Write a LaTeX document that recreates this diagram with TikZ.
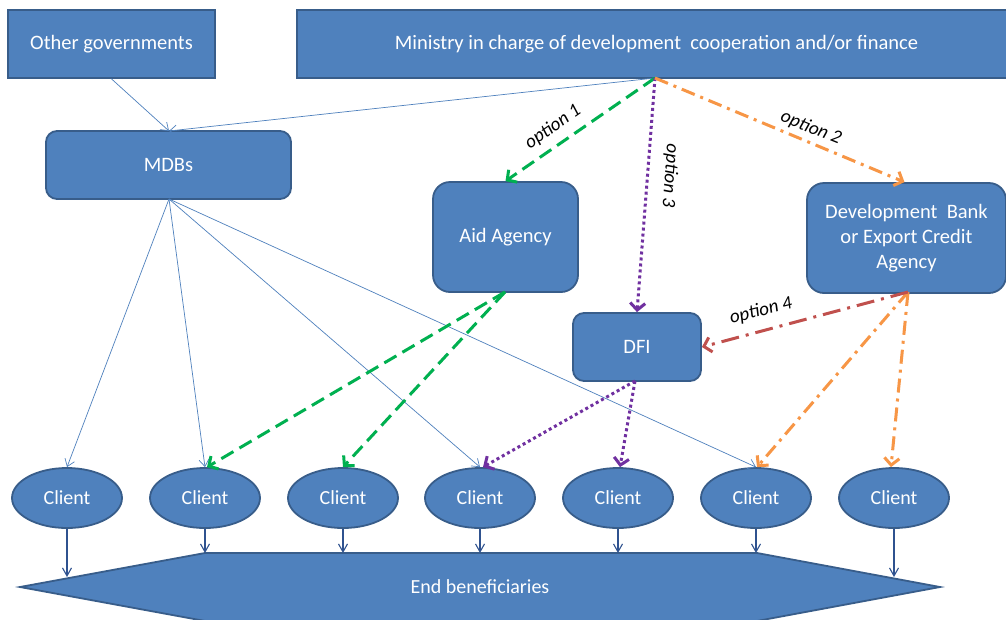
\documentclass[tikz,border=0pt]{standalone}
\usepackage{fontspec}
\setmainfont{Carlito}
\usetikzlibrary{arrows.meta,shapes.geometric}
\definecolor{boxfill}{HTML}{4F81BD}
\definecolor{boxline}{HTML}{385D8A}
\definecolor{thinblue}{HTML}{4F81BD}
\definecolor{downblue}{HTML}{2F528F}
\definecolor{optgreen}{HTML}{00B050}
\definecolor{optpurple}{HTML}{7030A0}
\definecolor{optorange}{HTML}{F79646}
\definecolor{optred}{HTML}{C0504D}
\begin{document}
\begin{tikzpicture}[x=1pt,y=-1pt,
  sqbox/.style={draw=boxline,line width=1.8pt,fill=boxfill,text=white,minimum height=68pt,inner sep=2pt,font=\fontsize{20.5}{25}\selectfont,align=center},
  rbox/.style={sqbox,rounded corners=11pt},
  client/.style={ellipse,draw=boxline,line width=1.8pt,fill=boxfill,text=white,minimum width=110pt,minimum height=60pt,inner sep=0pt,font=\fontsize{20}{24}\selectfont},
  thin/.style={draw=thinblue,line width=0.7pt,-{Straight Barb[length=7pt,width=10pt]}},
  down/.style={draw=downblue,line width=1.1pt,-{Straight Barb[length=8pt,width=9pt]}},
  thick/.style={line width=3pt,-{Straight Barb[length=7pt,width=15pt]}},
  greenopt/.style={thick,draw=optgreen,dash pattern=on 14pt off 7pt},
  purpleopt/.style={thick,draw=optpurple,dash pattern=on 3pt off 3pt},
  orangeopt/.style={thick,draw=optorange,dash pattern=on 14pt off 6pt on 3pt off 6pt},
  redopt/.style={thick,draw=optred,dash pattern=on 18pt off 7pt on 3pt off 7pt},
  optlabel/.style={font=\fontsize{19}{22}\selectfont\itshape,text=black,inner sep=0pt}
]
\useasboundingbox (0,0) rectangle (1006,619);
\clip (0,0) rectangle (1006,619);
\fill[white] (0,0) rectangle (1006,619);

% boxes
\node[sqbox,minimum width=207pt] (og) at (111.5,44) {Other governments};
\node[sqbox,minimum width=715pt] (min) at (654.5,44) {\hspace*{2pt}Ministry in charge of development\ \ cooperation and/or finance\hspace*{-2pt}};
\node[rbox,minimum width=245pt] (mdb) at (168.5,165) {MDBs};
\node[rbox,rounded corners=17pt,minimum width=145pt,minimum height=110pt] (aid) at (505.5,237) {Aid Agency};
\node[rbox,rounded corners=17pt,minimum width=199pt,minimum height=110pt,font=\fontsize{20.5}{25}\selectfont] (bank) at (906.5,238) {Development\ \ Bank\\or Export Credit\\Agency};
\node[rbox,minimum width=128pt] (dfi) at (637,347) {DFI};

% clients
\foreach \i/\x in {1/67,2/205,3/343,4/480,5/618,6/756,7/894}{
  \node[client] (c\i) at (\x,498) {Client};
}

% end beneficiaries hexagon
\path[draw=boxline,line width=1.8pt,fill=boxfill] (20,587) -- (205,553) -- (757,553) -- (940,587) -- (757,621) -- (205,621) -- cycle;
\node[text=white,font=\fontsize{20}{24}\selectfont] (end) at (480,587) {End beneficiaries};

\coordinate (e1) at (67,577);
\coordinate (e2) at (205,553);
\coordinate (e3) at (343,553);
\coordinate (e4) at (480,553);
\coordinate (e5) at (618,553);
\coordinate (e6) at (756,553);
\coordinate (e7) at (894,577);
\foreach \i in {1,...,7}{
  \draw[down] (c\i.south) -- (e\i);
}

% anchor coordinates
\coordinate (mo) at (655,78);
\coordinate (mt) at (169,131);
\coordinate (mb) at (169,199);
\coordinate (ab) at (505,292);
\coordinate (bb) at (908,292);
\coordinate (db) at (635,381);

% thin blue lines
\draw[thin] (og.south) -- (mt);
\draw[thin] (mo) -- (mt);
\draw[thin] (mb) -- (c1.north);
\draw[thin] (mb) -- (c2.north);
\draw[thin] (mb) -- (c4.north);
\draw[thin] (mb) -- (c6.north);

% options
\draw[greenopt] (mo) -- (aid.north);
\draw[greenopt] (ab) -- ([xshift=2pt]c2.north);
\draw[greenopt] (ab) -- (c3.north);
\draw[purpleopt] (mo) -- (dfi.north);
\draw[purpleopt] (db) -- ([xshift=3pt]c4.north);
\draw[purpleopt] (db) -- ([xshift=2pt]c5.north);
\draw[orangeopt] (mo) -- ([xshift=-2pt]bank.north);
\draw[orangeopt] (bb) -- ([xshift=1pt]c6.north);
\draw[orangeopt] (bb) -- ([xshift=-3pt]c7.north);
\draw[redopt] (bb) -- (dfi.east);

% labels
\node[optlabel,rotate=35] (l1) at (553,127) {option 1};
\node[optlabel,rotate=-22] (l2) at (811,128) {option 2};
\node[optlabel,rotate=-94] (l3) at (670,176) {option 3};
\node[optlabel,rotate=14] (l4) at (761,311) {option 4};
\end{tikzpicture}
\end{document}
